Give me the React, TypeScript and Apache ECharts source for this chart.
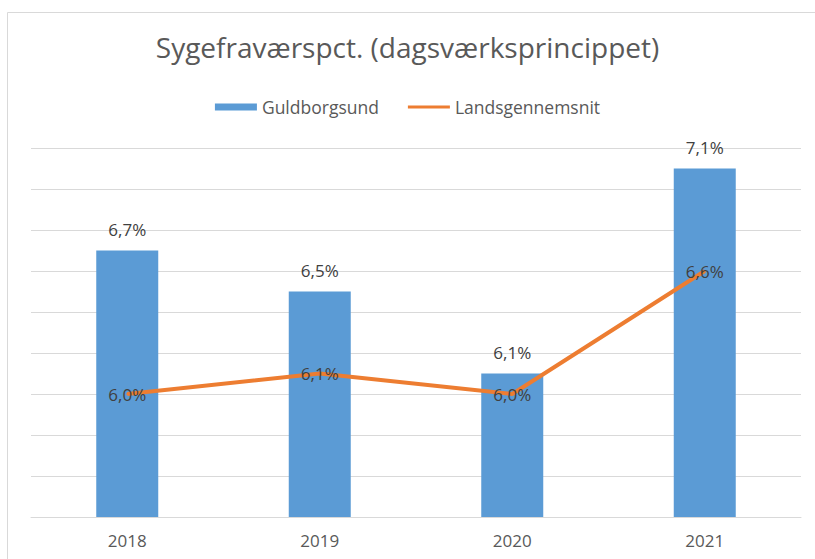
import React, { useEffect, useRef } from "react";
import * as echarts from "echarts";

const categories = ["2018", "2019", "2020", "2021"];
const guldborgsund = [6.7, 6.5, 6.1, 7.1];
const landsgennemsnit = [6.0, 6.1, 6.0, 6.6];
const titleText = "Sygefraværspct. (dagsværksprincippet)";
const seriesNames = ["Guldborgsund", "Landsgennemsnit"];

const FONT = "'Open Sans', sans-serif";
const fmt = (v: number) => v.toFixed(1).replace(".", ",") + "%";

export default function App() {
  const ref = useRef<HTMLDivElement>(null);
  useEffect(() => {
    if (!ref.current) return;
    const chart = echarts.init(ref.current, null, { renderer: "svg" });
    chart.setOption({
      animation: false,
      backgroundColor: "#ffffff",
      title: {
        text: titleText,
        left: "center",
        top: 28,
        textStyle: { fontFamily: FONT, fontSize: 28, fontWeight: "normal", color: "#595959" },
      },
      legend: {
        top: 93,
        left: "center",
        itemWidth: 42,
        itemHeight: 7,
        itemGap: 29,
        textStyle: { fontFamily: FONT, fontSize: 17.5, color: "#595959" },
        data: [
          { name: seriesNames[0], icon: "rect" },
          { name: seriesNames[1], icon: "path://M0 0 H42 V3 H0 Z" },
        ],
      },
      graphic: [
        {
          type: "rect",
          shape: { x: 7.5, y: 12.5, width: 900, height: 700 },
          style: { fill: "none", stroke: "#d9d9d9", lineWidth: 1 },
          silent: true,
        },
      ],
      grid: { left: 31, right: 14, top: 148, bottom: 42 },
      xAxis: {
        type: "category",
        data: categories,
        axisLine: { lineStyle: { color: "#d9d9d9", width: 1 } },
        axisTick: { show: false },
        axisLabel: { fontFamily: FONT, fontSize: 17, color: "#595959", margin: 15 },
      },
      yAxis: {
        type: "value",
        min: 5.4,
        max: 7.2,
        interval: 0.2,
        axisLabel: { show: false },
        axisLine: { show: false },
        axisTick: { show: false },
        splitLine: { lineStyle: { color: "#d9d9d9", width: 1 } },
      },
      series: [
        {
          name: seriesNames[0],
          type: "bar",
          data: guldborgsund,
          barWidth: 62,
          itemStyle: { color: "#5b9bd5" },
          label: {
            show: true,
            position: "top",
            distance: 13,
            formatter: (p: any) => fmt(p.value),
            fontFamily: FONT,
            fontSize: 17,
            color: "#404040",
          },
        },
        {
          name: seriesNames[1],
          type: "line",
          data: landsgennemsnit,
          symbol: "circle",
          symbolSize: 2,
          lineStyle: { color: "#ed7d31", width: 4 },
          itemStyle: { color: "#ed7d31" },
          label: {
            show: true,
            position: "inside",
            formatter: (p: any) => fmt(p.value),
            fontFamily: FONT,
            fontSize: 17,
            color: "#404040",
          },
        },
      ],
    });
    return () => chart.dispose();
  }, []);
  return (
    <div
      ref={ref}
      style={{ position: "fixed", left: 0, top: 0, width: 815, height: 559 }}
    />
  );
}
